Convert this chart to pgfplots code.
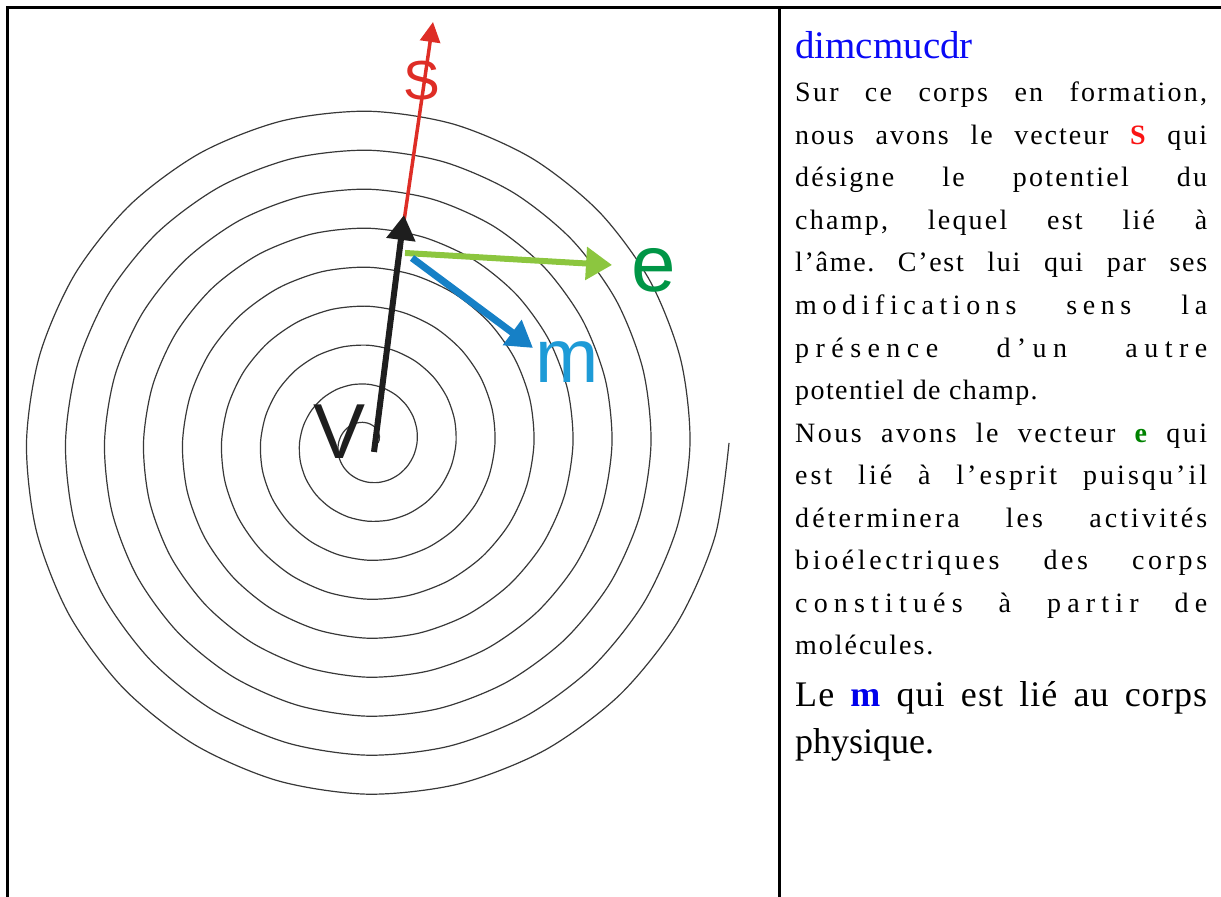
\documentclass[border=0pt]{standalone}
\usepackage{fontspec}
\setmainfont{Liberation Serif}
\newfontfamily\diag{Liberation Sans}
\usepackage{pgfplots}
\pgfplotsset{compat=1.18}
\usetikzlibrary{arrows.meta}
\definecolor{ttlblue}{RGB}{10,10,245}
\definecolor{txtred}{RGB}{250,20,20}
\definecolor{txtgreen}{RGB}{0,130,0}
\definecolor{txtblue}{RGB}{0,0,235}
\definecolor{arrred}{RGB}{222,45,38}
\definecolor{arrgreen}{RGB}{140,198,63}
\definecolor{arrblue}{RGB}{22,128,198}
\definecolor{letgreen}{RGB}{0,150,70}
\definecolor{letblue}{RGB}{30,155,215}
\definecolor{letblack}{RGB}{30,30,30}
\frenchspacing
\newcommand{\bodyfont}{\fontsize{28pt}{32pt}\selectfont}
\newcommand{\bigfont}{\fontsize{36pt}{40pt}\selectfont}
% justified line: y, letter spacing, text
\newcommand{\jline}[3]{\node[anchor=base west, inner sep=0pt, font=\bodyfont] at (axis cs:427,#1) {\frenchspacing\addfontfeatures{LetterSpace=#2}\makebox[412pt][s]{#3}};}
\newcommand{\nline}[3]{\node[anchor=base west, inner sep=0pt, font=\bodyfont] at (axis cs:427,#1) {\frenchspacing\addfontfeatures{LetterSpace=#2}#3};}
\begin{document}
\begin{tikzpicture}
\begin{axis}[name=ax, scale only axis, width=1221pt, height=897pt,
  xmin=-368, xmax=853, ymin=-454, ymax=443, hide axis, clip=false]
% table rules
\addplot[black, line width=3.3pt, line join=miter] coordinates {(-360.5,-454) (-360.5,435.7) (853,435.7)};
\addplot[black, line width=3.3pt] coordinates {(411.3,435.7) (411.3,-454)};
% spiral (polar: angle in degrees, radius)
\addplot[data cs=polar, smooth, black!78, line width=1.2pt] coordinates {
(-360,10) (-345,11.625) (-330,13.25) (-315,14.875) (-300,16.5) (-285,18.125) (-270,19.75) (-255,21.375) (-240,23) (-225,24.625) (-210,26.25) (-195,27.875) (-180,29.5) (-165,31.125) (-150,32.75) (-135,34.375) (-120,36) (-105,37.625) (-90,39.25) (-75,40.875) (-60,42.5) (-45,44.125) (-30,45.75) (-15,47.375)
(0,49) (15,50.625) (30,52.25) (45,53.875) (60,55.5) (75,57.125) (90,58.75) (105,60.375) (120,62) (135,63.625) (150,65.25) (165,66.875) (180,68.5) (195,70.125) (210,71.75) (225,73.375) (240,75) (255,76.625) (270,78.25) (285,79.875) (300,81.5) (315,83.125) (330,84.75) (345,86.375)
(360,88) (375,89.625) (390,91.25) (405,92.875) (420,94.5) (435,96.125) (450,97.75) (465,99.375) (480,101) (495,102.625) (510,104.25) (525,105.875) (540,107.5) (555,109.125) (570,110.75) (585,112.375) (600,114) (615,115.625) (630,117.25) (645,118.875) (660,120.5) (675,122.125) (690,123.75) (705,125.375)
(720,127) (735,128.625) (750,130.25) (765,131.875) (780,133.5) (795,135.125) (810,136.75) (825,138.375) (840,140) (855,141.625) (870,143.25) (885,144.875) (900,146.5) (915,148.125) (930,149.75) (945,151.375) (960,153) (975,154.625) (990,156.25) (1005,157.875) (1020,159.5) (1035,161.125) (1050,162.75) (1065,164.375)
(1080,166) (1095,167.625) (1110,169.25) (1125,170.875) (1140,172.5) (1155,174.125) (1170,175.75) (1185,177.375) (1200,179) (1215,180.625) (1230,182.25) (1245,183.875) (1260,185.5) (1275,187.125) (1290,188.75) (1305,190.375) (1320,192) (1335,193.625) (1350,195.25) (1365,196.875) (1380,198.5) (1395,200.125) (1410,201.75) (1425,203.375)
(1440,205) (1455,206.625) (1470,208.25) (1485,209.875) (1500,211.5) (1515,213.125) (1530,214.75) (1545,216.375) (1560,218) (1575,219.625) (1590,221.25) (1605,222.875) (1620,224.5) (1635,226.125) (1650,227.75) (1665,229.375) (1680,231) (1695,232.625) (1710,234.25) (1725,235.875) (1740,237.5) (1755,239.125) (1770,240.75) (1785,242.375)
(1800,244) (1815,245.625) (1830,247.25) (1845,248.875) (1860,250.5) (1875,252.125) (1890,253.75) (1905,255.375) (1920,257) (1935,258.625) (1950,260.25) (1965,261.875) (1980,263.5) (1995,265.125) (2010,266.75) (2025,268.375) (2040,270) (2055,271.625) (2070,273.25) (2085,274.875) (2100,276.5) (2115,278.125) (2130,279.75) (2145,281.375)
(2160,283) (2175,284.625) (2190,286.25) (2205,287.875) (2220,289.5) (2235,291.125) (2250,292.75) (2265,294.375) (2280,296) (2295,297.625) (2310,299.25) (2325,300.875) (2340,302.5) (2355,304.125) (2370,305.75) (2385,307.375) (2400,309) (2415,310.625) (2430,312.25) (2445,313.875) (2460,315.5) (2475,317.125) (2490,318.75) (2505,320.375)
(2520,322) (2535,323.625) (2550,325.25) (2565,326.875) (2580,328.5) (2595,330.125) (2610,331.75) (2625,333.375) (2640,335) (2655,336.625) (2670,338.25) (2685,339.875) (2700,341.5) (2715,343.125) (2730,344.75) (2745,346.375) (2760,348) (2775,349.625) (2790,351.25) (2805,352.875) (2820,354.5) (2835,356.125) (2850,357.75) (2865,359.375)
(2880,361)};
% diagram letters
\node[inner sep=0pt, text=letblack, font=\diag\fontsize{78pt}{80pt}\selectfont] at (axis cs:-28,11) {V};
\node[inner sep=0pt, text=arrred, font=\diag\fontsize{55pt}{56pt}\selectfont] at (axis cs:54,362) {S};
\node[inner sep=0pt, text=letgreen, font=\diag\fontsize{80pt}{82pt}\selectfont] at (axis cs:286,173) {e};
\node[inner sep=0pt, text=letblue, font=\diag\fontsize{76pt}{78pt}\selectfont] at (axis cs:199,81) {m};
% vectors
\addplot[arrred, line width=3.5pt, -{Triangle[length=20pt,width=20pt]}] coordinates {(36,222) (65,421)};
\addplot[letblack, line width=6pt, -{Triangle[length=25pt,width=28pt]}] coordinates {(6,-9) (36,228)};
\addplot[arrgreen, line width=6pt, -{Triangle[length=26pt,width=32pt]}] coordinates {(37,190) (244,178)};
\addplot[arrblue, line width=7pt, -{Triangle[length=26pt,width=30pt]}] coordinates {(44,185) (165,95)};
% text column
\node[anchor=base west, inner sep=0pt, text=ttlblue, font=\fontsize{39pt}{42pt}\selectfont] at (axis cs:427,384) {dimcmucdr};
\jline{341.3}{8}{Sur ce corps en formation,}
\jline{298.7}{7}{nous avons le vecteur {\bfseries\color{txtred}S} qui}
\jline{256.2}{8}{désigne le potentiel du}
\jline{213.6}{8}{champ, lequel est lié à}
\jline{171.1}{6}{l’âme. C’est lui qui par ses}
\jline{128.5}{20}{modifications sens la}
\jline{85.9}{23}{présence d’un autre}
\nline{43.4}{5}{potentiel de champ.}
\jline{0.8}{9}{Nous avons le vecteur {\bfseries\color{txtgreen}e} qui}
\jline{-41.7}{11}{est lié à l’esprit puisqu’il}
\jline{-84.3}{11}{déterminera les activités}
\jline{-126.9}{13}{bioélectriques des corps}
\jline{-169.4}{22}{constitués à partir de}
\nline{-212}{7}{molécules.}
\node[anchor=base west, inner sep=0pt, font=\bigfont] at (axis cs:427,-263.7) {\addfontfeatures{LetterSpace=3}\makebox[412pt][s]{Le {\bfseries\color{txtblue}m} qui est lié au corps}};
\node[anchor=base west, inner sep=0pt, font=\bigfont] at (axis cs:427,-310.3) {physique.};
\end{axis}
\pgfresetboundingbox
\path (ax.south west) rectangle (ax.north east);
\end{tikzpicture}
\end{document}
